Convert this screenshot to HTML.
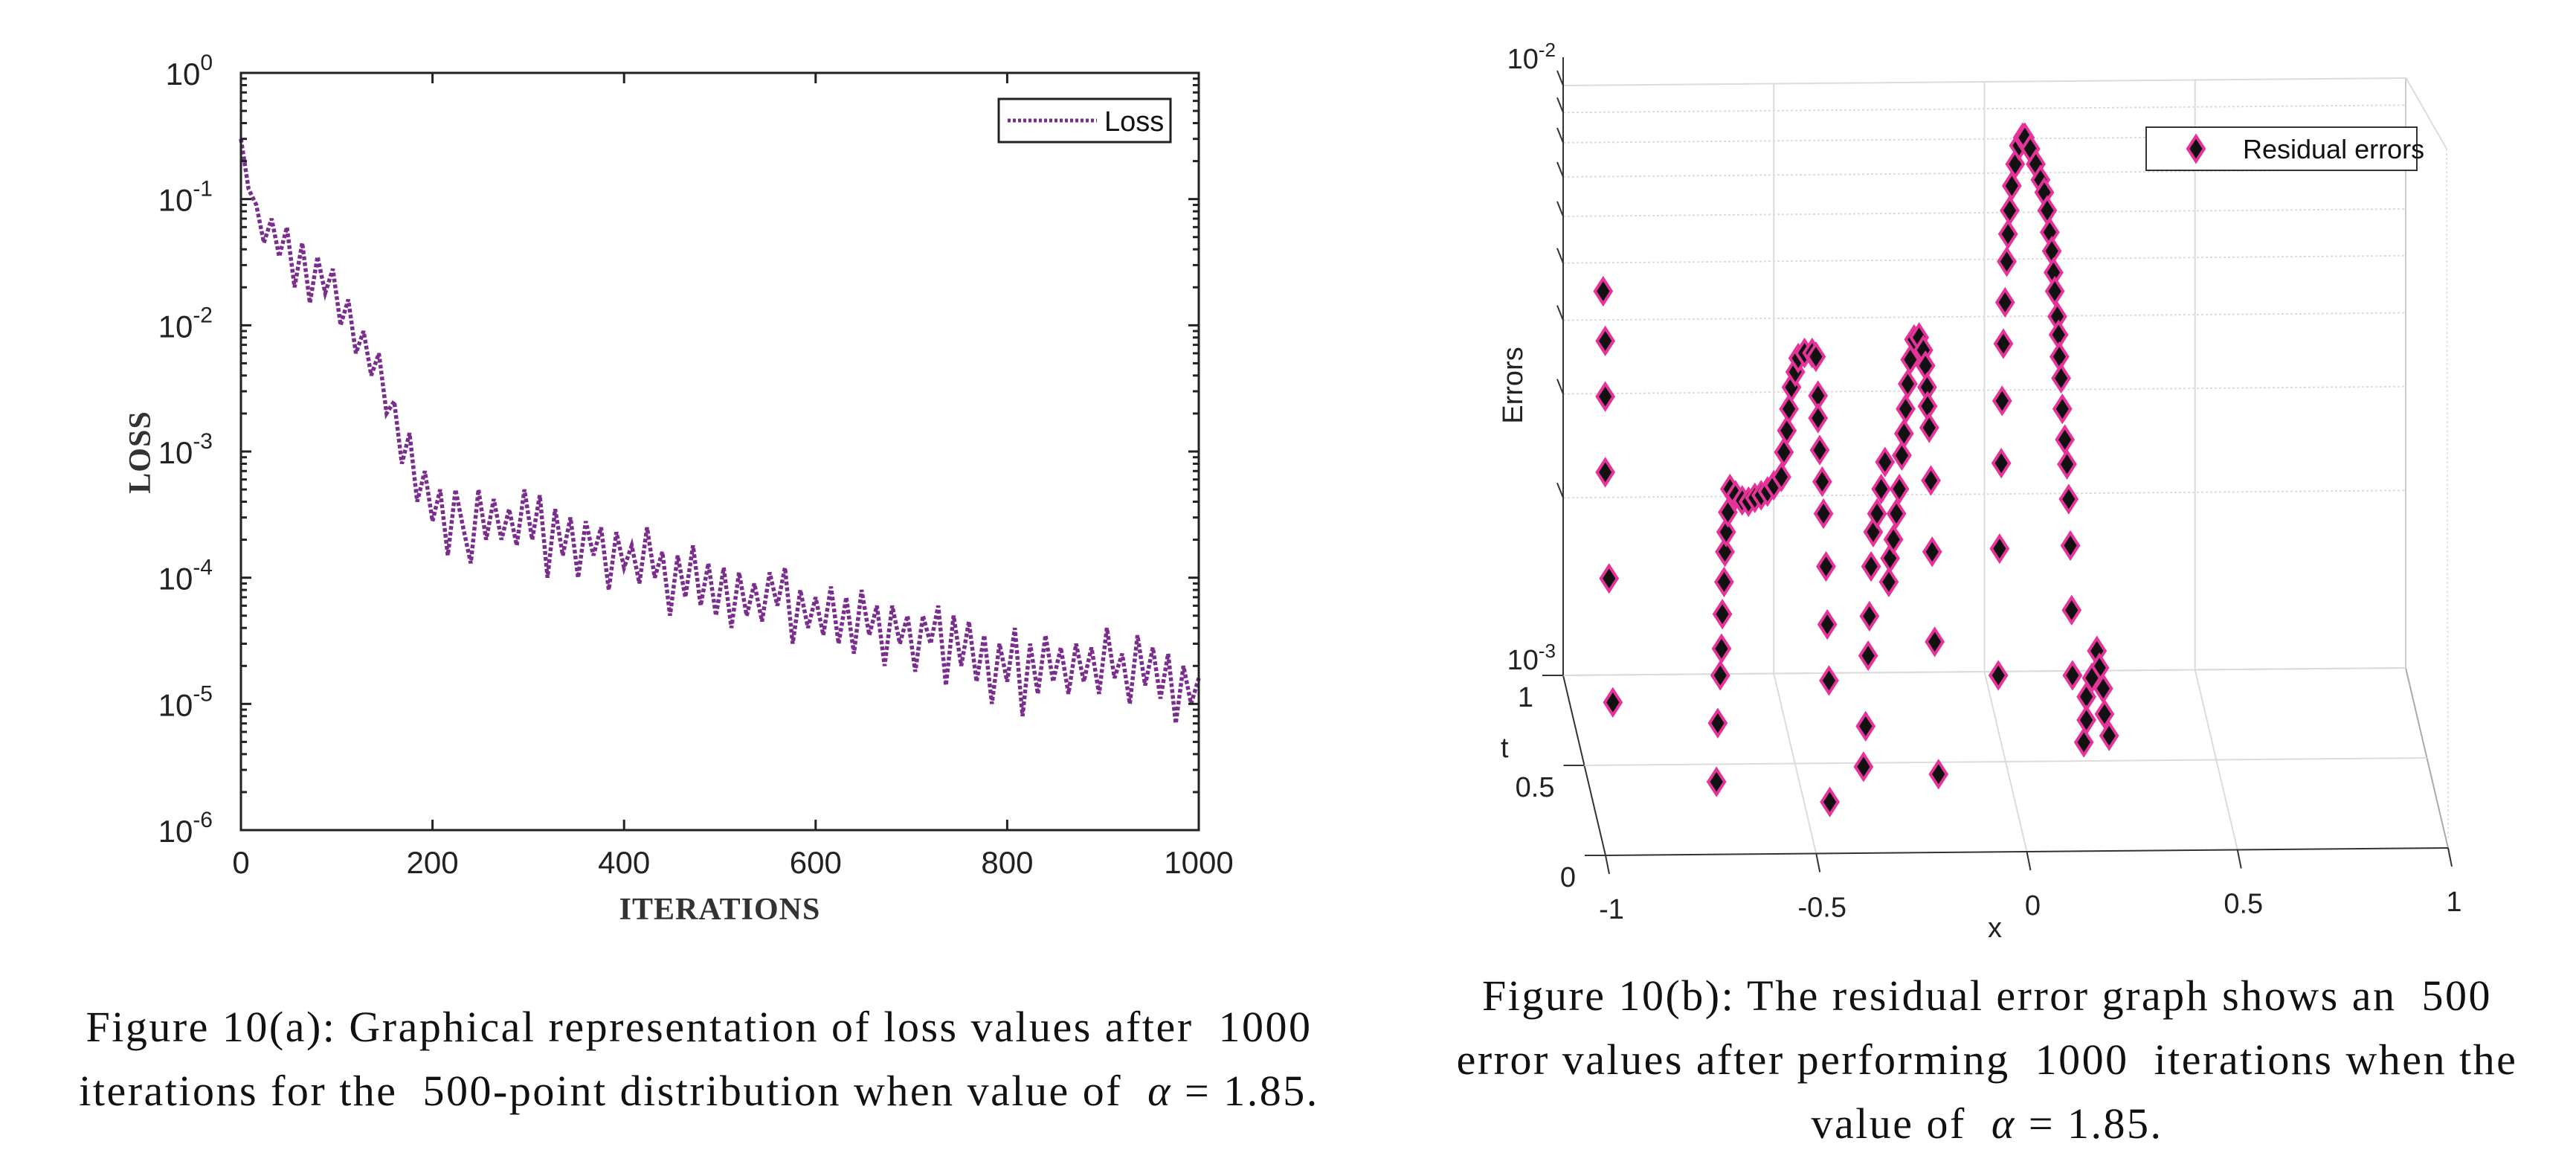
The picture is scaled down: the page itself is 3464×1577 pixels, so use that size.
<!DOCTYPE html>
<html><head><meta charset="utf-8"><style>
html,body{margin:0;padding:0;background:#fff;}
body{width:3464px;height:1577px;overflow:hidden;position:relative;}
svg{position:absolute;left:0;top:0;}
.cap{position:absolute;font-family:"Liberation Serif",serif;font-size:58px;letter-spacing:2.5px;color:#111;text-align:center;white-space:nowrap;line-height:86px;}
</style></head><body>
<svg id="chart" width="3464" height="1577" xmlns="http://www.w3.org/2000/svg">
<g id="left"></g>
<g id="right"></g>
</svg>
<div class="cap" style="left:0px;top:1338px;width:1880px;">Figure 10(a): Graphical representation of loss values after&nbsp; 1000<br>iterations for the&nbsp; 500-point distribution when value of&nbsp; <i>α</i> = 1.85.</div>
<div class="cap" style="left:1880px;top:1296px;width:1584px;">Figure 10(b): The residual error graph shows an&nbsp; 500<br>error values after performing&nbsp; 1000&nbsp; iterations when the<br>value of&nbsp; <i>α</i> = 1.85.</div>
<script>
// ---- Loss chart data ----
const lossIters = [];
for (let i = 0; i <= 1000; i += 8) lossIters.push(i);
const lossValues = [3e-1,1.2e-1,9e-2,4.5e-2,7e-2,3.5e-2,6e-2,2e-2,4.5e-2,1.5e-2,3.5e-2,1.8e-2,2.8e-2,1e-2,1.6e-2,6e-3,9e-3,4e-3,6e-3,2e-3,2.5e-3,8e-4,1.4e-3,4e-4,7e-4,2.8e-4,5e-4,1.5e-4,5e-4,2.5e-4,1.3e-4,5e-4,2e-4,4.2e-4,2e-4,3.5e-4,1.8e-4,5e-4,2e-4,4.5e-4,1e-4,3.5e-4,1.5e-4,3e-4,1e-4,2.8e-4,1.5e-4,2.5e-4,8e-5,2.3e-4,1.2e-4,1.8e-4,9e-5,2.5e-4,1e-4,1.6e-4,5e-5,1.5e-4,7e-5,1.8e-4,6e-5,1.3e-4,5e-5,1.2e-4,4e-5,1.1e-4,5e-5,9e-5,4.5e-5,1.1e-4,6e-5,1.2e-4,3e-5,8e-5,4e-5,7e-5,3.5e-5,8.5e-5,3e-5,7e-5,2.5e-5,8e-5,3.5e-5,6e-5,2e-5,6e-5,3e-5,5e-5,1.8e-5,5e-5,3e-5,6e-5,1.4e-5,5e-5,2e-5,4.5e-5,1.5e-5,3.5e-5,1e-5,3e-5,1.5e-5,4e-5,8e-6,3e-5,1.2e-5,3.5e-5,1.5e-5,2.8e-5,1.2e-5,3e-5,1.5e-5,2.8e-5,1.2e-5,4e-5,1.6e-5,2.5e-5,1e-5,3.5e-5,1.4e-5,2.8e-5,1.1e-5,2.5e-5,7e-6,2e-5,1e-5,1.6e-5];
const xTickLabels = ["0","200","400","600","800","1000"];
const yTickExps = [0,-1,-2,-3,-4,-5,-6];

// ---- Residual chart data ----
const resX = [-0.905,-0.9,-0.9,-0.9,-0.891,-0.882,
 -0.636,-0.633,-0.627,-0.624,-0.622,-0.618,-0.616,-0.613,-0.609,-0.604,
 -0.591,-0.575,-0.56,-0.545,-0.53,-0.515,-0.5,
 -0.482,-0.476,-0.469,-0.464,-0.458,-0.449,-0.442,-0.427,-0.409,
 -0.4,-0.395,-0.395,-0.391,-0.385,-0.382,-0.376,-0.373,-0.369,-0.367,
 -0.287,-0.282,-0.276,-0.273,-0.269,-0.264,-0.255,-0.245,-0.236,
 -0.227,-0.224,-0.216,-0.209,-0.202,-0.196,-0.191,-0.187,-0.182,-0.176,-0.167,-0.155,-0.145,-0.14,-0.136,-0.135,-0.131,-0.127,-0.124,-0.118,-0.109,
 0.033,0.036,0.04,0.042,0.045,0.049,0.053,0.056,0.06,0.065,0.073,0.082,0.091,0.096,0.109,0.122,0.133,0.142,0.149,0.155,0.16,0.164,0.167,0.173,0.176,0.178,0.182,0.185,0.191,0.196,0.2,0.204,0.207,0.209,
 0.267,0.273,0.282,0.285,0.296,0.242,0.242,0.236,0.255];
const resErr = [4.48e-3,3.69e-3,2.97e-3,2.21e-3,1.46e-3,0.90e-3,
 0.66e-3,0.83e-3,1.00e-3,1.11e-3,1.27e-3,1.44e-3,1.62e-3,1.75e-3,1.89e-3,2.07e-3,
 2.02e-3,1.98e-3,1.97e-3,2.0e-3,2.02e-3,2.05e-3,2.1e-3,
 2.17e-3,2.39e-3,2.60e-3,2.83e-3,3.08e-3,3.27e-3,3.45e-3,3.52e-3,3.52e-3,
 3.47e-3,2.98e-3,2.73e-3,2.41e-3,2.13e-3,1.88e-3,1.53e-3,1.22e-3,0.98e-3,0.61e-3,
 0.70e-3,0.82e-3,1.08e-3,1.26e-3,1.53e-3,1.75e-3,1.88e-3,2.07e-3,2.30e-3,
 1.44e-3,1.58e-3,1.70e-3,1.88e-3,2.07e-3,2.36e-3,2.57e-3,2.83e-3,3.12e-3,3.43e-3,3.71e-3,3.74e-3,3.56e-3,3.35e-3,3.08e-3,2.86e-3,2.63e-3,2.14e-3,1.62e-3,1.14e-3,0.68e-3,
 1.00e-3,1.64e-3,2.29e-3,2.92e-3,3.65e-3,4.29e-3,5.03e-3,5.60e-3,6.14e-3,6.76e-3,7.36e-3,7.91e-3,8.16e-3,8.16e-3,7.81e-3,7.36e-3,6.92e-3,6.59e-3,6.14e-3,5.64e-3,5.24e-3,4.82e-3,4.48e-3,4.06e-3,3.78e-3,3.47e-3,3.19e-3,2.83e-3,2.51e-3,2.28e-3,1.99e-3,1.66e-3,1.29e-3,1.00e-3,
 1.10e-3,1.03e-3,0.95e-3,0.86e-3,0.79e-3,0.92e-3,0.84e-3,0.77e-3,0.99e-3];
const resXTicks = ["-1","-0.5","0","0.5","1"];
const resTTicks = ["0","0.5","1"];

const NS = "http://www.w3.org/2000/svg";
function mk(parent, tag, attrs, text) {
  const e = document.createElementNS(NS, tag);
  for (const k in attrs) e.setAttribute(k, attrs[k]);
  if (text !== undefined) e.textContent = text;
  parent.appendChild(e);
  return e;
}

// ===== Left chart =====
const L = document.getElementById('left');
const X0 = 324, X1 = 1612, Y0 = 98, Y1 = 1116;
const lx = v => X0 + (v / 1000) * (X1 - X0);
const ly = v => Y0 + (-Math.log10(v) / 6) * (Y1 - Y0);
const axisFont = '"Liberation Sans Narrow","Liberation Sans",sans-serif';

let d = '';
lossValues.forEach((v, i) => { d += (i ? 'L' : 'M') + lx(lossIters[i]).toFixed(1) + ',' + ly(v).toFixed(1); });
const line = mk(L, 'path', {d: d, fill: 'none', stroke: '#7b2d8e', 'stroke-width': 5.5, 'stroke-dasharray': '5 3', 'stroke-linejoin': 'miter'});



const box = mk(L, 'rect', {x: X0, y: Y0, width: X1 - X0, height: Y1 - Y0, fill: 'none', stroke: '#222', 'stroke-width': 3});



xTickLabels.forEach(t => {
  const x = lx(+t);
  mk(L, 'line', {x1: x, x2: x, y1: Y1, y2: Y1 - 14, stroke: '#222', 'stroke-width': 3});
  mk(L, 'line', {x1: x, x2: x, y1: Y0, y2: Y0 + 14, stroke: '#222', 'stroke-width': 3});
  const tx = mk(L, 'text', {x: x, y: Y1 + 58, 'text-anchor': 'middle', 'font-family': axisFont, 'font-size': 42, fill: '#222'}, t);
  
  
});
yTickExps.forEach(e => {
  const y = ly(Math.pow(10, e));
  mk(L, 'line', {x1: X0, x2: X0 + 14, y1: y, y2: y, stroke: '#222', 'stroke-width': 3});
  mk(L, 'line', {x1: X1, x2: X1 - 14, y1: y, y2: y, stroke: '#222', 'stroke-width': 3});
  const tx = mk(L, 'text', {x: X0 - 38, y: y + 16, 'text-anchor': 'end', 'font-family': axisFont, 'font-size': 42, fill: '#222'});
  
  
  mk(tx, 'tspan', {}, '10');
  mk(tx, 'tspan', {dy: -20, 'font-size': 30}, String(e));
  if (e > -6) {
    for (let m = 2; m <= 9; m++) {
      const yy = ly(m * Math.pow(10, e - 1));
      mk(L, 'line', {x1: X0, x2: X0 + 8, y1: yy, y2: yy, stroke: '#222', 'stroke-width': 3});
      mk(L, 'line', {x1: X1, x2: X1 - 8, y1: yy, y2: yy, stroke: '#222', 'stroke-width': 3});
    }
  }
});
const xl = mk(L, 'text', {x: 968, y: 1236, 'text-anchor': 'middle', 'font-family': '"Liberation Serif",serif', 'font-size': 42, 'font-weight': 'bold', fill: '#333', 'letter-spacing': 1}, 'ITERATIONS');


const yl = mk(L, 'text', {x: 0, y: 0, 'text-anchor': 'middle', 'font-family': '"Liberation Serif",serif', 'font-size': 42, 'font-weight': 'bold', fill: '#333', 'letter-spacing': 1, transform: 'translate(202,608) rotate(-90)'}, 'LOSS');


const lg = mk(L, 'g', {});


mk(lg, 'rect', {x: 1343, y: 133, width: 231, height: 58, fill: '#fff', stroke: '#222', 'stroke-width': 3});
mk(lg, 'line', {x1: 1355, x2: 1475, y1: 162, y2: 162, stroke: '#7b2d8e', 'stroke-width': 5, 'stroke-dasharray': '4 3'});
mk(lg, 'text', {x: 1485, y: 176, 'font-family': axisFont, 'font-size': 38, fill: '#111'}, 'Loss');

// ===== Right chart (3D view) =====
const R = document.getElementById('right');
const BX0 = 2102, BX1 = 3235, BY = 908, FX0 = 2159, FY = 1150, TOPY = 115, DEC = 793;
function px(x, t) { return BX0 + (x + 1) / 2 * (BX1 - BX0) + (1 - t) * (FX0 - BX0); }
function py(x, t, err) { return BY + (1 - t) * (FY - BY) - (x + 1) / 2 * 10 - (Math.log10(err) + 3) * DEC; }
const grid = '#dcdcdc';
mk(R, 'line', {x1: BX0, y1: BY, x2: BX1, y2: BY - 10, stroke: '#ccc', 'stroke-width': 2});
mk(R, 'line', {x1: BX1, y1: BY - 10, x2: BX1, y2: TOPY - 11, stroke: '#ccc', 'stroke-width': 2});
for (let m = 2; m <= 10; m++) {
  const y = BY - Math.log10(m) * DEC;
  mk(R, 'line', {x1: BX0, y1: y, x2: BX1, y2: y - 10, stroke: grid, 'stroke-width': 2, 'stroke-dasharray': m === 10 ? 'none' : '3 3'});
  mk(R, 'line', {x1: BX0, y1: y, x2: BX0 - 8, y2: y - 20, stroke: '#333', 'stroke-width': 2});
}
resXTicks.forEach(s => {
  const x = +s;
  const bx = px(x, 1), by = py(x, 1, 1e-3);
  if (x > -1 && x < 1) mk(R, 'line', {x1: bx, y1: by, x2: bx, y2: by - DEC, stroke: grid, 'stroke-width': 2});
  const fx = px(x, 0), fy = py(x, 0, 1e-3);
  mk(R, 'line', {x1: bx, y1: by, x2: fx, y2: fy, stroke: x === -1 ? '#333' : (x === 1 ? '#aaa' : grid), 'stroke-width': 2});
  mk(R, 'line', {x1: fx, y1: fy, x2: fx + 5, y2: fy + 25, stroke: '#333', 'stroke-width': 2});
  const tx = mk(R, 'text', {x: fx + 8, y: fy + 85, 'text-anchor': 'middle', 'font-family': axisFont, 'font-size': 38, fill: '#222'}, s);
  
  
});
resTTicks.forEach(s => {
  const t = +s;
  const x0 = px(-1, t), y0 = py(-1, t, 1e-3), x1 = px(1, t), y1 = py(1, t, 1e-3);
  mk(R, 'line', {x1: x0, y1: y0, x2: x1, y2: y1, stroke: t === 0 ? '#333' : grid, 'stroke-width': 2});
  mk(R, 'line', {x1: x0, y1: y0, x2: x0 - 28, y2: y0, stroke: '#333', 'stroke-width': 2});
  const tx = mk(R, 'text', {x: x0 - 40, y: y0 + 42, 'text-anchor': 'end', 'font-family': axisFont, 'font-size': 38, fill: '#222'}, s);
  
  
});
mk(R, 'line', {x1: BX0, y1: BY, x2: BX0, y2: 77, stroke: '#333', 'stroke-width': 2});
[[-2, 92], [-3, BY - 8]].forEach(([e, y]) => {
  const tx = mk(R, 'text', {x: BX0 - 10, y: y, 'text-anchor': 'end', 'font-family': axisFont, 'font-size': 38, fill: '#222'});
  
  
  mk(tx, 'tspan', {}, '10');
  mk(tx, 'tspan', {dy: -16, 'font-size': 26}, String(e));
});
const zt = mk(R, 'text', {x: 0, y: 0, 'text-anchor': 'middle', 'font-family': axisFont, 'font-size': 38, fill: '#222', transform: 'translate(2047,518) rotate(-90)'}, 'Errors');


const tt = mk(R, 'text', {x: 2018, y: 1018, 'font-family': axisFont, 'font-size': 38, fill: '#222'}, 't');


const xt = mk(R, 'text', {x: 2673, y: 1260, 'font-family': axisFont, 'font-size': 38, fill: '#222'}, 'x');


mk(R, 'line', {x1: BX1, y1: TOPY - 11, x2: BX1 + 55, y2: 200, stroke: '#ddd', 'stroke-width': 2});
mk(R, 'line', {x1: BX1 + 55, y1: 200, x2: BX1 + 57, y2: 1130, stroke: '#e4e4e4', 'stroke-width': 2, 'stroke-dasharray': '3 3'});

const mg = mk(R, 'g', {});


resX.forEach((x, i) => {
  const cx = px(x, 1), cy = py(x, 1, resErr[i]) + (x + 1) / 2 * 10;
  const m = mk(mg, 'path', {d: `M${cx},${cy - 17}L${cx + 11},${cy}L${cx},${cy + 17}L${cx - 11},${cy}Z`, fill: '#111', stroke: '#e6339a', 'stroke-width': 4});
  
  
});
const rg = mk(R, 'g', {});


mk(rg, 'rect', {x: 2886, y: 171, width: 364, height: 58, fill: '#fff', stroke: '#333', 'stroke-width': 2});
mk(rg, 'path', {d: 'M2953,183L2964,200L2953,217L2942,200Z', fill: '#111', stroke: '#e6339a', 'stroke-width': 4});
mk(rg, 'text', {x: 3016, y: 213, 'font-family': axisFont, 'font-size': 36, fill: '#111'}, 'Residual errors');
</script>
</body></html>
